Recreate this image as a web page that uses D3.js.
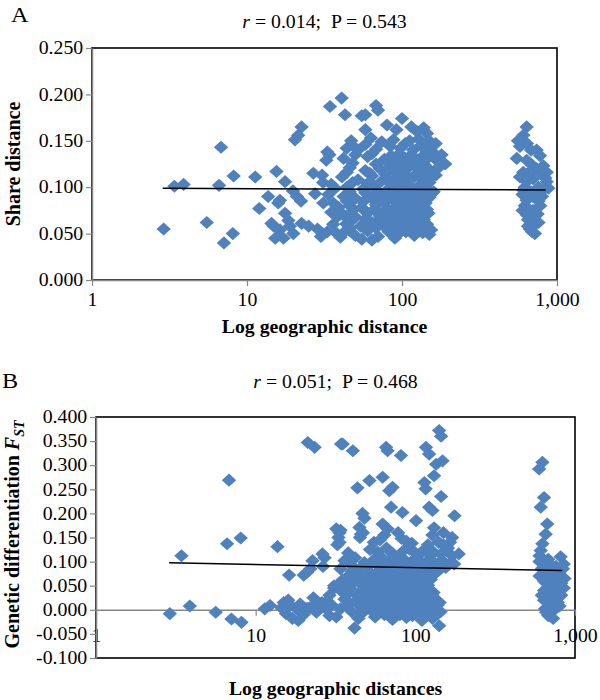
<!DOCTYPE html>
<html>
<head>
<meta charset="utf-8">
<script src="https://cdn.jsdelivr.net/npm/d3@7"></script>
<style>
  body { margin: 0; background: #fff; }
</style>
</head>
<body>
<div id="chart"></div>
<script>
// ===========================
// Two-panel scatter: distance vs. share distance / FST (log x)
// ===========================

// ── Data ────────────────────────────────────────────────────────────────────
const xTicks  = [1, 10, 100, 1000];
const yTicksA = [0, 0.05, 0.1, 0.15, 0.2, 0.25];
const yTicksB = [-0.1, -0.05, 0, 0.05, 0.1, 0.15, 0.2, 0.25, 0.3, 0.35, 0.4];

const titleA = { r: '0.014', p: '0.543' };
const titleB = { r: '0.051', p: '0.468' };

// [geographic distance, share distance]
const pointsA = [
  [2.9,.055],[3.4,.101],[3.9,.103],[5.5,.062],[6.8,.143],[6.6,.102],[7.1,.040],[8.1,.050],[8.2,.112],
  [11.3,.111],[12.0,.077],[13.7,.090],[15.5,.117],[17.6,.106],[15.9,.083],[14.4,.061],[16.3,.054],
  [15.2,.045],[17.2,.045],[18.9,.058],[22.5,.061],[19.9,.050],[16.3,.086],[17.6,.072],[14.9,.058],
  [18.5,.064],[19.8,.096],[21,.090],[22.3,.085],[20.4,.151],[22.5,.165],[21.4,.156],[26.8,.115],
  [27.5,.093],[31.1,.083],[28.5,.055],[30,.047],[33,.052],[36,.060],[38,.050],[40,.046],[25,.058],
  [34.3,.187],[40.8,.196],[42.9,.178],[33,.138],[32.5,.129],[34,.135],[31,.105],[30.5,.113],[35,.103],
  [37,.099],[33.5,.092],[36,.083],[39,.078],[42,.070],[38,.068],[35,.073],[44,.060],[46,.053],
  [68,.188],[70,.183],[55,.177],[58,.178],[100,.174],
  [80,.167],[115,.165],[138,.164],[145,.158],[92,.162],[58,.162],[125,.160],
  [47,.150],[63,.153],[74,.149],[88,.151],[112,.150],[128,.152],[150,.150],[165,.147],
  [48,.145],[58,.146],[84,.144],[105,.147],[132,.145],[150,.143],
  [44,.142],[52,.140],[68,.141],[98,.142],[118,.140],[140,.141],[158,.138],[180,.135],
  [50,.135],[64,.136],[85,.134],[96,.136],[115,.135],[148,.132],[165,.130],
  [42,.131],[60,.133],[77,.130],[90,.128],[105,.131],[125,.129],[135,.133],[170,.128],[190,.125],
  [48,.126],[68,.125],[82,.126],[100,.124],[118,.126],[140,.124],[175,.122],
  [46,.121],[58,.118],[72,.120],[85,.122],[95,.117],[110,.121],[130,.119],[148,.120],[160,.117],
  [44,.116],[62,.115],[78,.114],[90,.116],[105,.114],[125,.115],[142,.113],[165,.113],
  [41,.111],[52,.108],[64,.112],[78,.109],[92,.110],[103,.107],[120,.111],[138,.108],[155,.112],
  [48,.105],[60,.104],[72,.105],[84,.106],[96,.104],[110,.103],[135,.104],[150,.105],
  [44,.100],[56,.098],[66,.101],[80,.097],[88,.102],[100,.099],[115,.098],[128,.101],[145,.098],[160,.095],
  [46,.095],[58,.094],[70,.095],[82,.093],[94,.095],[105,.094],[118,.095],[132,.094],[155,.093],
  [42,.090],[50,.088],[62,.091],[74,.087],[86,.092],[98,.089],[110,.088],[124,.091],[140,.087],[150,.089],
  [44,.085],[56,.084],[66,.086],[78,.084],[88,.086],[100,.085],[112,.083],[128,.085],[142,.083],
  [46,.080],[55,.078],[68,.081],[80,.077],[92,.080],[105,.078],[118,.082],[132,.079],[145,.076],
  [48,.075],[58,.074],[66,.076],[76,.074],[88,.075],[100,.073],[110,.076],[122,.074],[134,.073],[148,.072],
  [40,.071],[50,.068],[60,.072],[72,.069],[84,.070],[96,.067],[112,.071],[126,.068],[140,.070],
  [48,.065],[58,.066],[70,.064],[82,.065],[94,.063],[106,.066],[122,.064],[138,.065],
  [44,.061],[54,.058],[64,.062],[76,.059],[88,.060],[100,.057],[116,.061],[130,.058],[145,.060],
  [46,.056],[58,.055],[68,.056],[80,.055],[92,.054],[110,.056],[126,.055],[140,.055],[154,.054],
  [42,.051],[50,.048],[60,.053],[70,.047],[82,.052],[94,.049],[106,.052],[120,.048],[136,.051],[150,.049],
  [64,.043],[90,.045],[55,.044],
  [637,.165],[606,.156],[640,.147],[577,.144],[739,.140],[777,.134],[550,.131],[637,.129],[680,.125],
  [816,.123],[858,.116],[606,.116],[739,.120],[577,.111],[660,.110],[703,.109],[637,.106],[858,.106],
  [880,.099],[760,.100],[816,.097],[606,.097],[600,.092],[700,.090],[739,.088],[637,.086],[620,.080],
  [780,.080],[669,.075],[750,.071],[640,.070],[690,.068],[650,.065],[720,.062],[700,.058],[669,.055],
  [720,.050],[560,.150],[680,.140],[700,.120],[790,.115],[620,.100],[680,.095],[760,.085],[600,.075],
  [700,.075],[760,.062],[650,.058],[690,.052],[800,.090],[840,.110]
];

// [geographic distance, FST]
const pointsB = [
  [2.9,-.008],[3.43,.112],[3.87,.008],[5.62,-.005],[6.62,.137],[6.81,.269],[7.05,-.019],[8.15,-.026],
  [8.06,.149],[13.7,.131],[11.4,.002],[12.3,.009],[16.2,.072],
  [14.5,.004],[15.5,-.008],[16.5,.010],[17,-.018],[18,.002],[19,.012],[20,-.010],[16,.020],
  [18.5,-.022],[21,.003],[15,.015],[20,.072],[22,.085],[21,.078],
  [21.2,.347],[23.4,.337],[34.3,.344],[26.4,.090],[27,.108],[26.2,.116],[22.7,.102],
  [32,.168],[33,.150],[32.5,.135],[31,.050],[35,.060],
  [27,.005],[28,.018],[24,-.005],[25,.010],[29,-.012],[22,.005],[26,.015],[30,.010],[32,-.015],
  [23,.025],[29,.030],[31,.045],
  [141,.372],[145,.360],[35.1,.344],[40.6,.330],[65.6,.337],[67,.330],[81.3,.320],[116.6,.337],
  [122,.323],[148,.309],[135,.302],[131,.278],[114,.264],[116,.251],[145,.235],[62.4,.275],
  [51.6,.268],[43.4,.253],[72,.254],[68.7,.247],[70.5,.213],[83,.202],[128,.206],[122,.213],
  [176,.195],[46.7,.200],[48,.190],[44.7,.171],[45.7,.157],[62.4,.178],[67,.168],[101,.185],
  [131,.170],[150,.160],[170,.150],[140,.140],[187,.116],[33.5,.160],[33.5,.140],
  [34,.165],[45,.150],[47,.160],[55,.140],[60,.145],[64,.155],[78,.160],[82,.148],[88,.142],
  [95,.138],[120,.135],[128,.155],[150,.135],[165,.140],[160,.128],
  [38,.118],[52,.125],[58,.120],[66,.128],[72,.117],[84,.122],[92,.126],[100,.118],[112,.123],
  [130,.120],[145,.116],[170,.112],[60,.112],[80,.110],[104,.112],[125,.112],
  [36,.102],[42,.108],[48,.098],[55,.104],[62,.100],[70,.106],[76,.097],[86,.103],[94,.099],
  [104,.105],[116,.098],[126,.102],[138,.096],[150,.100],[162,.094],
  [40,.092],[50,.090],[58,.092],[66,.091],[73,.090],[80,.092],[90,.090],[98,.093],[110,.091],
  [120,.093],[132,.090],[155,.088],[175,.095],
  [34,.085],[40,.080],[46,.088],[52,.078],[60,.083],[68,.079],[75,.087],[84,.081],[92,.077],
  [100,.084],[110,.080],[122,.086],[134,.078],[142,.083],
  [38,.070],[44,.072],[50,.070],[57,.071],[64,.069],[72,.071],[80,.070],[88,.068],[96,.071],
  [106,.069],[116,.071],[128,.070],
  [35,.062],[41,.058],[48,.065],[55,.060],[62,.055],[70,.063],[78,.058],[86,.062],[95,.056],
  [104,.061],[115,.057],[125,.063],
  [38,.050],[46,.052],[52,.049],[58,.051],[66,.050],[74,.052],[82,.049],[90,.051],[100,.050],
  [110,.049],[120,.051],
  [34,.040],[39,.045],[45,.037],[52,.043],[58,.038],[66,.044],[74,.040],[82,.036],[90,.042],
  [98,.038],[108,.044],[120,.040],[130,.036],
  [37,.030],[43,.031],[50,.032],[57,.029],[64,.031],[72,.030],[80,.028],[88,.031],[96,.029],
  [106,.031],[118,.029],[128,.030],
  [36,.022],[42,.018],[48,.025],[54,.020],[62,.015],[70,.024],[78,.018],[86,.022],[94,.016],
  [104,.020],[114,.025],[124,.018],[134,.022],[142,.015],
  [38,.010],[44,.012],[50,.010],[58,.008],[66,.010],[74,.011],[82,.009],[90,.010],[98,.012],
  [106,.009],[116,.011],[126,.008],[138,.010],
  [34,.002],[40,-.004],[46,.005],[53,-.002],[60,.003],[68,-.006],[76,.004],[84,-.003],[92,.002],
  [100,-.008],[110,.001],[120,-.005],[132,.003],[144,-.004],
  [46,-.008],[56,-.006],[64,-.010],[80,-.010],[96,-.012],[116,-.012],[136,-.010],
  [44,-.018],[56,-.015],[72,-.020],[88,-.016],[110,-.022],[128,-.018],[41.6,-.038],[141,-.033],
  [625,.306],[596,.292],[640,.233],[610,.213],[670,.178],[655,.157],[625,.137],[610,.123],
  [813,.110],[600,.112],[650,.100],[700,.095],[760,.090],[840,.085],[620,.085],[680,.078],
  [800,.072],[860,.065],[720,.060],[660,.055],[780,.048],[850,.045],[640,.040],[700,.035],
  [820,.030],[760,.022],[660,.020],[720,.012],[800,.008],[650,.002],[700,-.005],[760,.003],
  [680,-.012],[730,-.018],[600,.070],[640,.060],[700,.050],[760,.045],[820,.055],[640,.020],
  [700,.025],[780,.015],[660,-.005],[620,.030],[740,.070],[850,.095],[680,.105],[600,.100]
];

// linear trend lines (end points)
const trendXA = [2.86, 845];
const trendYA = [0.0988, 0.0970];
const trendXB = [2.87, 832];
const trendYB = [0.0974, 0.0814];

// ── Layout / style ──────────────────────────────────────────────────────────
const W = 600, H = 700;
const SX = 1.1;                 // picture is slightly stretched horizontally
const FONT = "'Liberation Serif','Times New Roman',serif";
const BLUE = '#4F81BD';
const GREY = '#868686';

const svg = d3.select('#chart').append('svg')
    .attr('width', W).attr('height', H)
    .style('font-family', FONT);

svg.append('rect').attr('width', W).attr('height', H).attr('fill', '#fff');

function stretchedText(x, y, size, weight) {
    return svg.append('text')
        .attr('transform', 'translate(' + x + ',' + y + ') scale(' + SX + ',1)')
        .attr('text-anchor', 'middle')
        .style('font-size', size + 'px')
        .style('font-weight', weight || 'normal')
        .style('white-space', 'pre')
        .attr('fill', '#000');
}

function drawPanel(p) {
    const x = d3.scaleLog().domain([1, 1000]).range([p.left, p.right]);
    const y = d3.scaleLinear().domain([p.yMin, p.yMax]).range([p.bottom, p.top]);

    // plot area border
    svg.append('rect')
        .attr('x', p.left).attr('y', p.top)
        .attr('width', p.right - p.left).attr('height', p.bottom - p.top)
        .attr('fill', 'none').attr('stroke', '#000').attr('stroke-width', 1.6);

    // x axis (crosses at p.xCross)
    const xa = svg.append('g')
        .attr('transform', 'translate(0,' + y(p.xCross) + ')')
        .call(d3.axisBottom(x).tickValues(xTicks).tickFormat(d3.format(','))
            .tickSize(6).tickSizeOuter(0).tickPadding(p.xPad));
    xa.select('.domain').attr('stroke', GREY).attr('stroke-width', 1.5);
    xa.selectAll('.tick line').attr('stroke', GREY).attr('stroke-width', 1.2);
    xa.selectAll('.tick text')
        .attr('fill', '#000').style('font-size', '18px').style('font-family', FONT)
        .attr('transform', 'scale(' + SX + ',1)');

    // y axis
    const ya = svg.append('g')
        .attr('transform', 'translate(' + p.left + ',0)')
        .call(d3.axisLeft(y).tickValues(p.yTicks).tickFormat(d => d.toFixed(3))
            .tickSize(6).tickSizeOuter(0).tickPadding(2));
    ya.select('.domain').attr('stroke', GREY).attr('stroke-width', 1.5);
    ya.selectAll('.tick line').attr('stroke', GREY).attr('stroke-width', 1.2);
    ya.selectAll('.tick text')
        .attr('fill', '#000').style('font-size', '18px').style('font-family', FONT)
        .attr('transform', 'scale(' + SX + ',1)');

    // points
    const diamond = d3.symbol().type(d3.symbolSquare).size(86);
    svg.append('g').selectAll('path')
        .data(p.points)
        .join('path')
        .attr('d', diamond)
        .attr('transform', d => 'translate(' + x(d[0]) + ',' + y(d[1]) + ') scale(' + SX + ',1) rotate(45)')
        .attr('fill', BLUE);

    // trend line
    svg.append('line')
        .attr('x1', x(p.trendX[0])).attr('y1', y(p.trendY[0]))
        .attr('x2', x(p.trendX[1])).attr('y2', y(p.trendY[1]))
        .attr('stroke', '#000').attr('stroke-width', 1.5);

    // panel letter
    svg.append('text')
        .attr('transform', 'translate(' + p.letterX + ',' + p.letterY + ') scale(' + SX + ',1)')
        .style('font-size', '22px').attr('fill', '#000')
        .text(p.letter);

    // title  r = ...;  P = ...
    const t = stretchedText((p.left + p.right) / 2, p.titleY, 18);
    t.append('tspan').style('font-style', 'italic').text('r');
    t.append('tspan').text(' = ' + p.title.r + ';  P = ' + p.title.p);

    // x label
    stretchedText((p.left + p.right) / 2, p.xLabelY, 18, 'bold').text(p.xLabel);

    // y label
    const yl = svg.append('text')
        .attr('transform', 'translate(' + p.yLabelX + ',' + ((p.top + p.bottom) / 2 + p.yLabelShift) + ') scale(' + SX + ',1) rotate(-90)')
        .attr('text-anchor', 'middle')
        .style('font-size', '20px').style('font-weight', 'bold')
        .attr('fill', '#000');
    p.yLabel(yl);
}

drawPanel({
    left: 92, right: 557, top: 48, bottom: 280,
    yMin: 0, yMax: 0.25, yTicks: yTicksA, xCross: 0, xPad: 7,
    points: pointsA, trendX: trendXA, trendY: trendYA,
    letter: 'A', letterX: 11, letterY: 22,
    title: titleA, titleY: 28,
    xLabel: 'Log geographic distance', xLabelY: 333,
    yLabelX: 20, yLabelShift: 0,
    yLabel: s => s.text('Share distance')
});

drawPanel({
    left: 96, right: 575, top: 417, bottom: 658,
    yMin: -0.1, yMax: 0.4, yTicks: yTicksB, xCross: 0, xPad: 13,
    points: pointsB, trendX: trendXB, trendY: trendYB,
    letter: 'B', letterX: 2, letterY: 388,
    title: titleB, titleY: 388,
    xLabel: 'Log geographic distances', xLabelY: 695,
    yLabelX: 19, yLabelShift: -3,
    yLabel: s => {
        s.append('tspan').text('Genetic differentiation ');
        s.append('tspan').style('font-style', 'italic').text('F');
        s.append('tspan').style('font-style', 'italic').style('font-size', '14px')
            .attr('dy', '0.35em').text('ST');
    }
});
</script>
</body>
</html>
